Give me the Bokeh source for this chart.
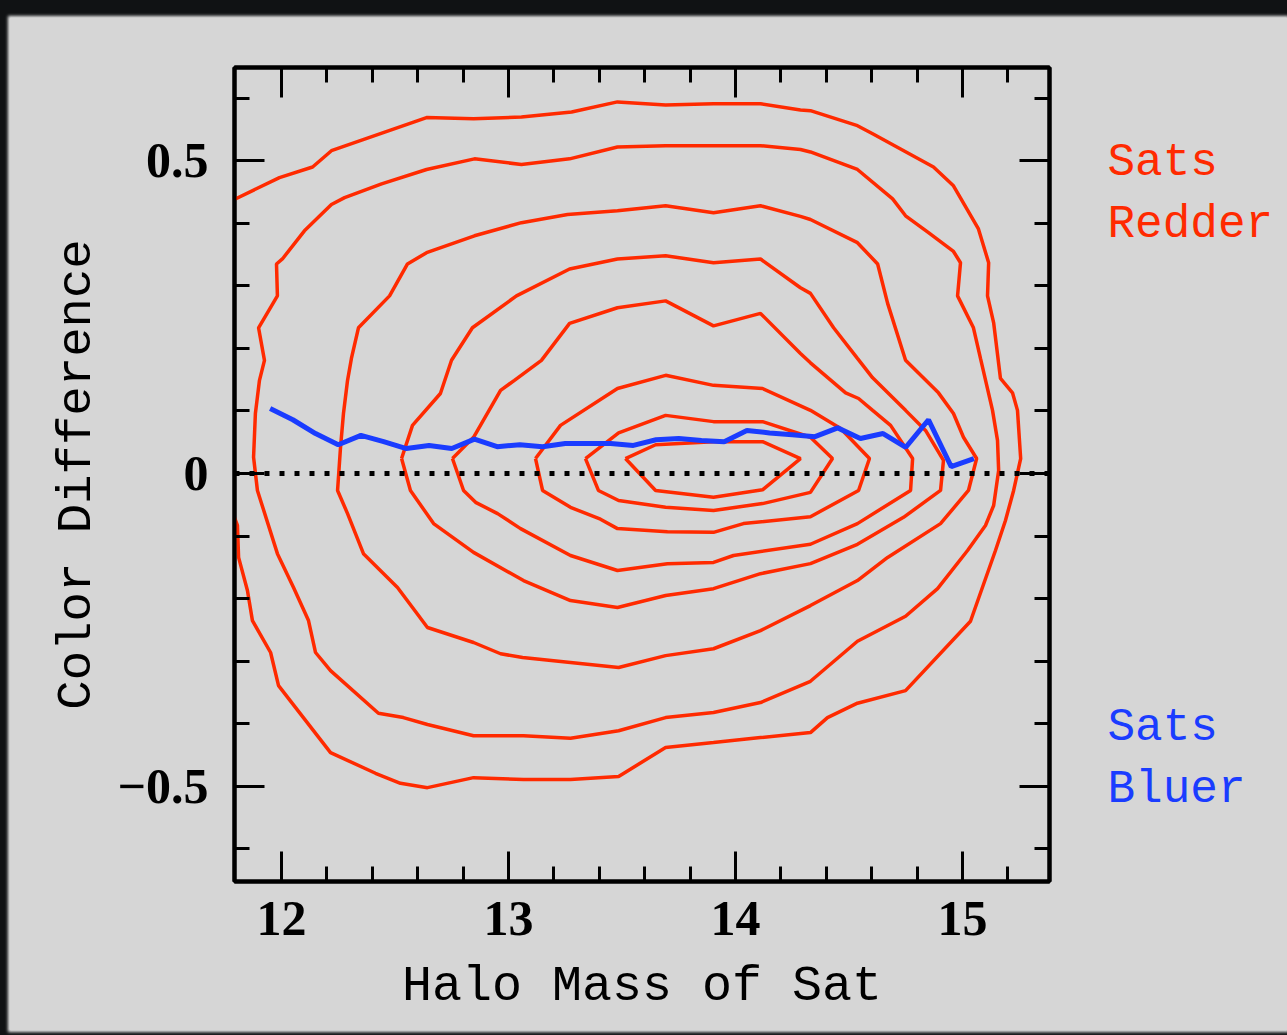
from bokeh.plotting import figure
from bokeh.models import Range1d, FixedTicker, Span, LinearAxis, ColumnDataSource
from bokeh.core.properties import value
from bokeh.layouts import row, column
from bokeh.embed import file_html
from bokeh.resources import INLINE

# ---------------- data ----------------
x_ticks = [12, 13, 14, 15]
x_minor = [12.2, 12.4, 12.6, 12.8, 13.2, 13.4, 13.6, 13.8, 14.2, 14.4, 14.6, 14.8, 15.2]
y_ticks = [-0.5, 0, 0.5]
y_minor = [-0.6, -0.4, -0.3, -0.2, -0.1, 0.1, 0.2, 0.3, 0.4, 0.6]
y_tick_labels = {-0.5: "\u22120.5", 0: "0", 0.5: "0.5"}

# side annotations
note_text = ["Sats", "Redder", "Sats", "Bluer"]
note_y = [0.497, 0.398, -0.407, -0.506]
note_kind = ["red", "red", "blue", "blue"]

# mean colour difference vs. halo mass (blue line)
mean_x = [11.95, 12.05, 12.15, 12.25, 12.35, 12.45, 12.55, 12.65, 12.75, 12.85, 12.95,
          13.05, 13.15, 13.25, 13.35, 13.45, 13.55, 13.65, 13.75, 13.85, 13.95,
          14.05, 14.15, 14.25, 14.35, 14.45, 14.55, 14.65, 14.75, 14.85, 14.95, 15.05]
mean_y = [0.104, 0.086, 0.064, 0.046, 0.061, 0.051, 0.040, 0.045, 0.040, 0.055, 0.043,
          0.046, 0.043, 0.048, 0.048, 0.048, 0.045, 0.054, 0.056, 0.053, 0.051,
          0.069, 0.065, 0.062, 0.059, 0.073, 0.056, 0.064, 0.042, 0.086, 0.011, 0.024]

# density contours (red), innermost to outermost
c0_x = [13.515, 13.648, 13.903, 14.119, 14.286, 14.119, 13.903, 13.648, 13.515]
c0_y = [0.024, 0.046, 0.051, 0.051, 0.024, -0.026, -0.038, -0.027, 0.024]

c1_x = [13.339, 13.485, 13.692, 13.903, 14.119, 14.330, 14.427, 14.330, 14.119, 13.903,
        13.692, 13.485, 13.396, 13.339]
c1_y = [0.024, 0.065, 0.093, 0.083, 0.083, 0.058, 0.024, -0.030, -0.048, -0.059,
        -0.054, -0.043, -0.027, 0.024]

c2_x = [13.119, 13.229, 13.480, 13.692, 13.903, 14.119, 14.330, 14.463, 14.590, 14.542,
        14.330, 14.035, 13.903, 13.700, 13.480, 13.405, 13.273, 13.150, 13.119]
c2_y = [0.024, 0.077, 0.136, 0.157, 0.141, 0.136, 0.101, 0.072, 0.024, -0.027,
        -0.069, -0.080, -0.094, -0.093, -0.088, -0.073, -0.054, -0.027, 0.024]

c3_x = [12.753, 12.846, 12.965, 13.026, 13.145, 13.269, 13.480, 13.692, 13.903, 14.110,
        14.286, 14.330, 14.485, 14.542, 14.604, 14.683, 14.780, 14.771, 14.537, 14.330,
        13.991, 13.903, 13.700, 13.480, 13.273, 13.053, 12.952, 12.855, 12.802, 12.753]
c3_y = [0.024, 0.058, 0.133, 0.149, 0.181, 0.240, 0.265, 0.276, 0.236, 0.256,
        0.192, 0.177, 0.129, 0.120, 0.101, 0.077, 0.024, -0.027, -0.080, -0.113,
        -0.131, -0.142, -0.144, -0.155, -0.131, -0.088, -0.064, -0.046, -0.027, 0.024]

c4_x = [12.529, 12.577, 12.700, 12.749, 12.841, 13.035, 13.269, 13.480, 13.692, 13.903,
        14.110, 14.286, 14.330, 14.432, 14.537, 14.604, 14.749, 14.837, 14.916, 14.903,
        14.740, 14.537, 14.330, 14.110, 13.903, 13.692, 13.480, 13.273, 13.066, 12.846,
        12.670, 12.568, 12.529]
c4_y = [0.024, 0.077, 0.128, 0.181, 0.233, 0.284, 0.327, 0.343, 0.348, 0.337,
        0.343, 0.297, 0.288, 0.233, 0.184, 0.153, 0.101, 0.069, 0.021, -0.027,
        -0.070, -0.113, -0.144, -0.160, -0.184, -0.195, -0.214, -0.203, -0.171, -0.126,
        -0.080, -0.027, 0.024]

c5_x = [12.291, 12.273, 12.260, 12.247, 12.291, 12.361, 12.511, 12.643, 12.846, 12.965,
        13.062, 13.273, 13.485, 13.692, 13.903, 14.110, 14.330, 14.537, 14.670, 14.903,
        15.026, 15.062, 15.004, 14.960, 14.894, 14.749, 14.670, 14.626, 14.537, 14.330,
        14.286, 14.110, 13.903, 13.692, 13.480, 13.260, 13.057, 12.850, 12.639, 12.555,
        12.476, 12.339, 12.308, 12.291]
c5_y = [0.149, 0.096, 0.042, -0.027, -0.064, -0.128, -0.182, -0.246, -0.270, -0.288,
        -0.294, -0.302, -0.310, -0.291, -0.280, -0.251, -0.211, -0.171, -0.134, -0.080,
        -0.027, 0.024, 0.058, 0.096, 0.129, 0.181, 0.272, 0.335, 0.369, 0.406,
        0.411, 0.428, 0.417, 0.428, 0.420, 0.414, 0.401, 0.380, 0.353, 0.335,
        0.284, 0.233, 0.184, 0.149]

c6_x = [11.903, 11.925, 11.899, 11.982, 11.978, 12.004, 12.101, 12.220, 12.278, 12.441,
        12.639, 12.850, 13.057, 13.269, 13.480, 13.692, 13.903, 14.110, 14.286, 14.330,
        14.537, 14.692, 14.749, 14.850, 14.960, 14.991, 14.978, 15.048, 15.079, 15.132,
        15.154, 15.159, 15.137, 15.101, 15.022, 14.890, 14.749, 14.537, 14.330, 14.110,
        13.903, 13.692, 13.485, 13.273, 13.066, 12.846, 12.643, 12.537, 12.427, 12.216,
        12.150, 12.119, 12.053, 11.982, 11.894, 11.877, 11.885, 11.903]
c6_y = [0.149, 0.181, 0.233, 0.284, 0.335, 0.343, 0.388, 0.430, 0.441, 0.463,
        0.486, 0.503, 0.494, 0.503, 0.522, 0.524, 0.524, 0.524, 0.518, 0.514,
        0.486, 0.439, 0.412, 0.385, 0.355, 0.337, 0.284, 0.233, 0.184, 0.101,
        0.053, 0.005, -0.051, -0.083, -0.123, -0.184, -0.228, -0.268, -0.332, -0.366,
        -0.382, -0.390, -0.411, -0.423, -0.419, -0.419, -0.401, -0.390, -0.383, -0.315,
        -0.286, -0.235, -0.182, -0.128, -0.027, 0.026, 0.096, 0.149]

c7_x = [11.780, 11.806, 11.811, 11.850, 11.872, 11.952, 11.987, 12.216, 12.414, 12.524,
        12.643, 12.846, 13.066, 13.273, 13.485, 13.692, 13.903, 14.110, 14.330, 14.405,
        14.537, 14.749, 15.035, 15.145, 15.189, 15.225, 15.256, 15.242, 15.220, 15.167,
        15.137, 15.110, 15.115, 15.070, 14.960, 14.872, 14.604, 14.537, 14.330, 14.286,
        14.110, 13.903, 13.692, 13.480, 13.278, 13.057, 12.846, 12.639, 12.220, 12.137,
        11.991, 11.780]
c7_y = [-0.058, -0.083, -0.134, -0.187, -0.235, -0.286, -0.339, -0.446, -0.479, -0.495,
        -0.502, -0.486, -0.489, -0.489, -0.484, -0.438, -0.430, -0.422, -0.414, -0.390,
        -0.367, -0.347, -0.236, -0.123, -0.075, -0.027, 0.024, 0.101, 0.129, 0.152,
        0.241, 0.284, 0.337, 0.391, 0.460, 0.490, 0.543, 0.556, 0.580, 0.581,
        0.591, 0.591, 0.589, 0.594, 0.578, 0.570, 0.567, 0.569, 0.516, 0.490,
        0.473, 0.436]

contours = [(c0_x, c0_y), (c1_x, c1_y), (c2_x, c2_y), (c3_x, c3_y),
            (c4_x, c4_y), (c5_x, c5_y), (c6_x, c6_y), (c7_x, c7_y)]

# ---------------- styling ----------------
RED = "#ff2a00"
BLUE = "#1a3cff"
PANEL = "#d6d6d6"
MONO = "Liberation Mono"
SERIF = "Liberation Serif"
Y_LO, Y_HI = -0.652, 0.649

p = figure(width=1049, height=1012, output_backend="svg", toolbar_location=None,
           x_range=Range1d(11.793, 15.383), y_range=Range1d(Y_LO, Y_HI),
           min_border_left=224, min_border_right=10, min_border_top=49,
           min_border_bottom=149, background_fill_color=PANEL, border_fill_color=PANEL,
           x_axis_label="Halo Mass of Sat", y_axis_label="Color Difference")
p.xgrid.visible = False
p.ygrid.visible = False
p.outline_line_color = "black"
p.outline_line_width = 4

p.add_layout(LinearAxis(), "above")
p.add_layout(LinearAxis(), "right")

for ax in p.xaxis:
    ax.ticker = FixedTicker(ticks=x_ticks, minor_ticks=x_minor)
for ax in p.yaxis:
    ax.ticker = FixedTicker(ticks=y_ticks, minor_ticks=y_minor)

for ax in p.axis:
    ax.axis_line_color = "black"
    ax.axis_line_width = 4
    ax.major_tick_in = 30
    ax.major_tick_out = 0
    ax.minor_tick_in = 15
    ax.minor_tick_out = 0
    ax.major_tick_line_width = 3
    ax.minor_tick_line_width = 3
    ax.major_tick_line_color = "black"
    ax.minor_tick_line_color = "black"
    ax.major_label_text_color = "black"
    ax.major_label_text_font = SERIF
    ax.major_label_text_font_style = "bold"
    ax.major_label_text_font_size = "50px"
    ax.axis_label_text_font = MONO
    ax.axis_label_text_font_style = "normal"
    ax.axis_label_text_font_size = "50px"
    ax.axis_label_text_color = "black"

p.above[0].major_label_overrides = {t: "" for t in x_ticks}
p.right[0].major_label_overrides = {t: "" for t in y_ticks}
p.right[0].major_label_standoff = 0
p.left[0].major_label_overrides = y_tick_labels
p.below[0].major_label_standoff = 20
p.below[0].axis_label_standoff = 20
p.left[0].major_label_standoff = 26
p.left[0].axis_label_standoff = 10
p.left[0].axis_label_text_font_size = "49px"

p.add_layout(Span(location=0, dimension="width", line_color="black",
                  line_width=5, line_dash="5 10"))

for cx, cy in contours:
    p.line(cx, cy, line_color=RED, line_width=3.5)

p.line(mean_x, mean_y, line_color=BLUE, line_width=5)

# side panel with the "Sats Redder / Sats Bluer" notes, sharing the vertical scale
side = figure(width=228, height=1012, output_backend="svg", toolbar_location=None,
              x_range=Range1d(0, 228), y_range=Range1d(Y_LO, Y_HI),
              min_border_left=0, min_border_right=0, min_border_top=49,
              min_border_bottom=149, background_fill_color=PANEL,
              border_fill_color=PANEL, x_axis_location=None, y_axis_location=None)
side.xgrid.visible = False
side.ygrid.visible = False
side.outline_line_color = None
note_color = [RED if k == "red" else BLUE for k in note_kind]
src = ColumnDataSource(dict(x=[48] * len(note_text), y=note_y, text=note_text, color=note_color))
side.text(x="x", y="y", text="text", text_color="color", source=src,
          text_font=value(MONO), text_font_size="46px", text_baseline="middle",
          text_align="left")

panel = row(p, side, margin=(18, 0, 5, 10),
            styles={"background-color": PANEL, "box-shadow": "0 0 3px 2px #eeeeee"})
layout = column(panel, styles={"background-color": "#101214"})

open("out.html", "w").write(file_html(layout, INLINE))
